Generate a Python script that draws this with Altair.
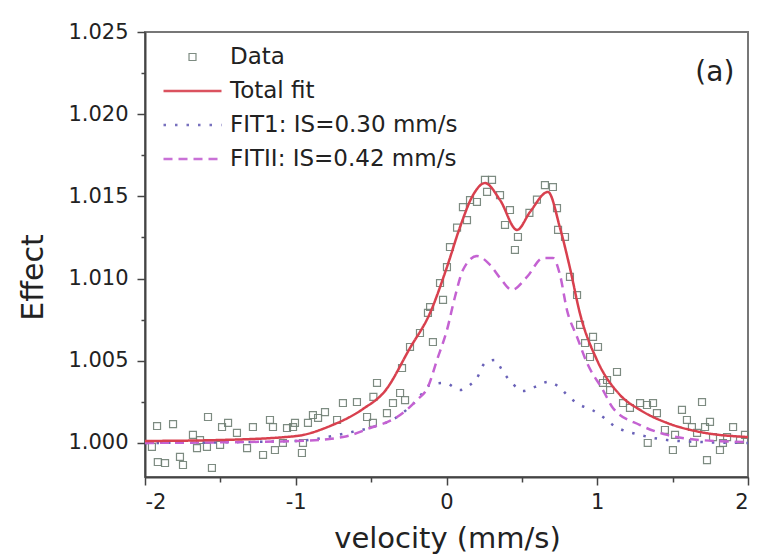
import altair as alt
import pandas as pd

# ---------------- data ----------------
data_v = [-1.954, -1.920, -1.915, -1.867, -1.814, -1.768, -1.748, -1.682, -1.655, -1.635,
          -1.589, -1.582, -1.556, -1.502, -1.489, -1.449, -1.390, -1.323, -1.284, -1.217,
          -1.171, -1.151, -1.138, -1.085, -1.058, -1.018, -1.005, -0.959, -0.952, -0.919,
          -0.886, -0.852, -0.806, -0.726, -0.687, -0.594, -0.527, -0.488, -0.485, -0.461,
          -0.395, -0.355, -0.308, -0.295, -0.275, -0.242, -0.176, -0.123, -0.109, -0.090,
          -0.043, -0.023, 0.003, 0.023, 0.070, 0.109, 0.136, 0.156, 0.202, 0.255,
          0.269, 0.302, 0.355, 0.388, 0.421, 0.454, 0.474, 0.550, 0.600, 0.653,
          0.706, 0.733, 0.740, 0.786, 0.819, 0.866, 0.886, 0.919, 0.952, 0.972,
          1.005, 1.038, 1.065, 1.085, 1.131, 1.171, 1.217, 1.284, 1.330, 1.335,
          1.370, 1.396, 1.449, 1.502, 1.516, 1.562, 1.595, 1.628, 1.635, 1.662,
          1.695, 1.715, 1.728, 1.748, 1.768, 1.814, 1.834, 1.861, 1.901, 1.947,
          1.980]
data_e = [0.99976, 1.00103, 0.99884, 0.99878, 1.00115, 0.99915, 0.99866, 1.00049, 0.99969, 1.00018,
          0.99976, 1.00158, 0.99848, 0.99988, 1.00097, 1.00122, 1.00061, 0.99969, 1.00097, 0.99927,
          1.00140, 1.00097, 0.99957, 1.00000, 1.00091, 1.00097, 1.00122, 0.99939, 1.00000, 1.00122,
          1.00170, 1.00152, 1.00188, 1.00140, 1.00243, 1.00249, 1.00158, 1.00122, 1.00280, 1.00365,
          1.00182, 1.00243, 1.00304, 1.00456, 1.00261, 1.00584, 1.00669, 1.00791, 1.00827, 1.00614,
          1.00973, 1.00870, 1.01070, 1.01192, 1.01310, 1.01435, 1.01356, 1.01478, 1.01466, 1.01600,
          1.01527, 1.01600, 1.01508, 1.01326, 1.01417, 1.01174, 1.01253, 1.01400, 1.01480, 1.01569,
          1.01557, 1.01429, 1.01296, 1.01253, 1.01010, 1.00900, 1.00718, 1.00608, 1.00523, 1.00645,
          1.00584, 1.00365, 1.00383, 1.00322, 1.00432, 1.00243, 1.00213, 1.00243, 1.00231, 1.00000,
          1.00243, 1.00182, 1.00079, 0.99957, 1.00049, 1.00201, 1.00140, 1.00097, 1.00000, 1.00061,
          1.00249, 1.00097, 0.99896, 1.00128, 1.00036, 0.99957, 1.00000, 1.00036, 1.00097, 1.00018,
          1.00049]

total_v = [-2.0, -1.502, -0.998, -0.773, -0.554, -0.408, -0.242, -0.109, 0.003, 0.090,
           0.176, 0.255, 0.355, 0.468, 0.554, 0.673, 0.753, 0.819, 0.886, 0.998,
           1.151, 1.284, 1.463, 1.682, 2.0]
total_e = [1.00012, 1.00018, 1.00042, 1.00103, 1.00207, 1.00316, 1.00578, 1.00791, 1.01070, 1.01314,
           1.01508, 1.01581, 1.01478, 1.01296, 1.01405, 1.01527, 1.01308, 1.01064, 1.00785, 1.00505,
           1.00292, 1.00201, 1.00122, 1.00067, 1.00036]

fit1_v = [-2.0, -0.998, -0.660, -0.488, -0.328, -0.196, -0.109, -0.010, 0.090, 0.156,
          0.202, 0.255, 0.322, 0.375, 0.434, 0.507, 0.587, 0.673, 0.746, 0.806,
          0.886, 0.965, 1.038, 1.104, 1.284, 1.463, 1.682, 2.0]
fit1_e = [1.00000, 1.00012, 1.00061, 1.00097, 1.00158, 1.00261, 1.00353, 1.00365, 1.00322, 1.00353,
          1.00395, 1.00487, 1.00505, 1.00432, 1.00365, 1.00316, 1.00341, 1.00371, 1.00341, 1.00286,
          1.00231, 1.00201, 1.00158, 1.00109, 1.00049, 1.00018, 1.00006, 1.00000]

fit2_v = [-2.0, -0.998, -0.687, -0.507, -0.328, -0.196, -0.123, -0.063, 0.003, 0.056,
          0.109, 0.202, 0.289, 0.355, 0.434, 0.534, 0.640, 0.706, 0.753, 0.799,
          0.866, 0.932, 1.038, 1.104, 1.284, 1.463, 1.682, 2.0]
fit2_e = [1.00000, 1.00012, 1.00036, 1.00091, 1.00158, 1.00261, 1.00341, 1.00505, 1.00687, 1.00888,
          1.01052, 1.01137, 1.01083, 1.01004, 1.00931, 1.01010, 1.01125, 1.01125, 1.01022, 1.00809,
          1.00645, 1.00487, 1.00322, 1.00213, 1.00109, 1.00049, 1.00018, 1.00006]

series = ["Data", "Total fit", "FIT1: IS=0.30 mm/s", "FITII: IS=0.42 mm/s"]
series_colors = ["#6f7f74", "#d8404e", "#6a62b8", "#c462d2"]
x_ticks = [-2, -1.5, -1, -0.5, 0, 0.5, 1, 1.5, 2]
y_ticks = [1.0, 1.0025, 1.005, 1.0075, 1.01, 1.0125, 1.015, 1.0175, 1.02, 1.0225, 1.025]
panel_label = ["(a)"]

# ---------------- tables ----------------
df_data = pd.DataFrame({"v": data_v, "e": data_e, "s": "Data"})
df_total = pd.DataFrame({"v": total_v, "e": total_e})
df_fit1 = pd.DataFrame({"v": fit1_v, "e": fit1_e})
df_fit2 = pd.DataFrame({"v": fit2_v, "e": fit2_e})
df_lab = pd.DataFrame({"v": [1.78], "e": [1.0225], "t": panel_label})

FONT = "DejaVu Sans"
TXT = "#222222"

xscale = alt.Scale(domain=[-2, 2], nice=False, zero=False)
yscale = alt.Scale(domain=[0.99793, 1.025], nice=False, zero=False)

x_axis = alt.Axis(
    title="velocity (mm/s)", values=x_ticks, grid=False,
    labelExpr="datum.value % 1 === 0 ? '' + datum.value : ''",
    tickSize={"condition": {"test": "datum.value % 1 === 0", "value": 8}, "value": 5},
    labelPadding=6, labelFont=FONT, labelFontSize=21, labelColor=TXT,
    titleFont=FONT, titleFontSize=29, titleFontWeight="normal", titleColor=TXT,
    titleX=302, titleY=70, titleBaseline="alphabetic", titleAnchor="middle",
    domainColor="#444444", domainWidth=2, tickColor="#444444", tickWidth=1.5,
)
y_axis = alt.Axis(
    title="Effect", values=y_ticks, grid=False,
    labelExpr="abs(round(datum.value*200) - datum.value*200) < 0.001 ? format(datum.value, '.3f') : ''",
    tickSize={"condition": {"test": "abs(round(datum.value*200) - datum.value*200) < 0.001", "value": 8}, "value": 4},
    labelPadding=9, labelFont=FONT, labelFontSize=21, labelColor=TXT,
    titleFont=FONT, titleFontSize=30, titleFontWeight="normal", titleColor=TXT,
    titleX=-103, titleY=245, titleBaseline="alphabetic", titleAlign="center", titleAngle=-90,
    domainColor="#444444", domainWidth=2, tickColor="#444444", tickWidth=1.5,
)

legend = alt.Legend(
    title=None, orient="none", legendX=17, legendY=12, padding=0,
    labelFont=FONT, labelFontSize=23, labelColor=TXT, labelOffset=7,
    symbolSize=3364, clipHeight=26, rowPadding=8, labelLimit=400,
)

sq = "M-0.12,-0.12H0.12V0.12H-0.12Z"
ln = "M-1,0H1"

points = alt.Chart(df_data).mark_point(filled=False, size=3364, opacity=0.9).encode(
    x=alt.X("v:Q", scale=xscale, axis=x_axis),
    y=alt.Y("e:Q", scale=yscale, axis=y_axis),
    color=alt.Color("s:N", scale=alt.Scale(domain=series, range=series_colors), legend=legend),
    shape=alt.Shape("s:N", scale=alt.Scale(domain=series, range=[sq, ln, ln, ln]), legend=legend),
    strokeDash=alt.StrokeDash("s:N", scale=alt.Scale(domain=series, range=[[1, 0], [1, 0], [2.5, 9], [9, 6]]), legend=legend),
    strokeWidth=alt.StrokeWidth("s:N", scale=alt.Scale(type="ordinal", domain=series, range=[1.2, 2.5, 2.5, 2.5]), legend=legend),
)

def fit_line(df, color, dash, width):
    return alt.Chart(df).mark_line(color=color, strokeDash=dash, strokeWidth=width,
                                   interpolate="monotone").encode(
        x=alt.X("v:Q", scale=xscale),
        y=alt.Y("e:Q", scale=yscale),
    )

l1 = fit_line(df_fit1, series_colors[2], [2.5, 9], 2.5)
l2 = fit_line(df_fit2, series_colors[3], [9, 6], 2.5)
lt = fit_line(df_total, series_colors[1], [1, 0], 2.5)

lab = alt.Chart(df_lab).mark_text(font=FONT, fontSize=28, color=TXT, align="center",
                                  baseline="middle").encode(
    x=alt.X("v:Q", scale=xscale), y=alt.Y("e:Q", scale=yscale), text="t:N")

chart = alt.layer(points, l1, l2, lt, lab).properties(
    width=603, height=445,
    autosize=alt.AutoSizeParams(type="none"),
    padding={"left": 145, "top": 32, "right": 9, "bottom": 77},
    background="white",
).configure_view(stroke="#777777", strokeWidth=2)

chart.save("out.html", embed_options={"renderer": "svg", "actions": False})
